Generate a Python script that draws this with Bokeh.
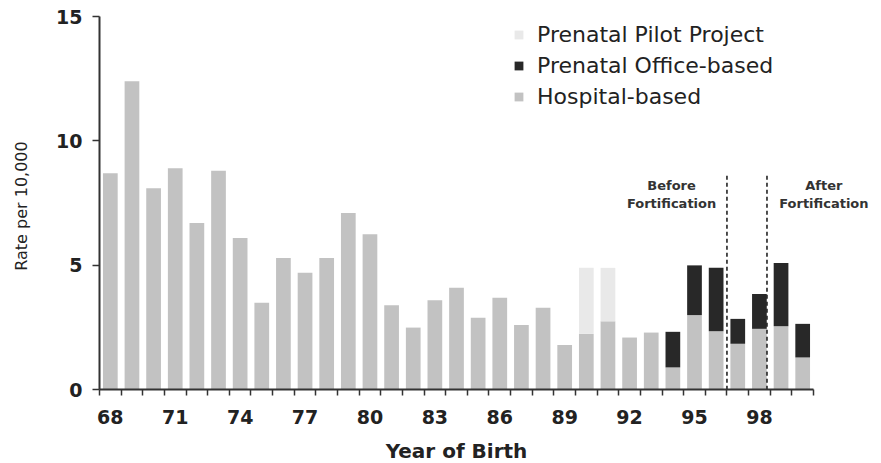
import math
from bokeh.plotting import figure
from bokeh.models import ColumnDataSource, Range1d, FixedTicker, Legend, LegendItem, Label
from bokeh.core.properties import value
from bokeh.embed import file_html
from bokeh.resources import INLINE

# ---- data ----
years = list(range(68, 101))
hospital = [8.7, 12.4, 8.1, 8.9, 6.7, 8.8, 6.1, 3.5, 5.3, 4.7, 5.3, 7.1, 6.25,
            3.4, 2.5, 3.6, 4.1, 2.9, 3.7, 2.6, 3.3, 1.8, 2.25, 2.75, 2.1, 2.3,
            0.9, 3.0, 2.35, 1.85, 2.45, 2.55, 1.3]
office = [0] * 26 + [1.43, 2.0, 2.55, 1.0, 1.4, 2.55, 1.35]
pilot = [0] * 22 + [2.65, 2.15] + [0] * 9
label_years = [68, 71, 74, 77, 80, 83, 86, 89, 92, 95, 98]
y_ticks = [0, 5, 10, 15]
series_names = ["Hospital-based", "Prenatal Office-based", "Prenatal Pilot Project"]
series_colors = ["#c2c2c2", "#282828", "#e9e9e9"]

divider_x = [96.5, 98.35]
divider_top = [8.67, 8.67]
note_x = [93.94, 93.94, 100.98, 100.98]
note_y = [8.2, 7.48, 8.2, 7.48]
note_text = ["Before", "Fortification", "After", "Fortification"]
x_title = "Year of Birth"
y_title = "Rate per 10,000"

FONT = "DejaVu Sans"
TXT = "#222222"

src = ColumnDataSource(dict(year=years, hospital=hospital, office=office, pilot=pilot))

# the frame fills the whole canvas; axes are pinned inside it
p = figure(width=881, height=463,
           x_range=Range1d(62.924, 103.643), y_range=Range1d(-2.961, 15.643),
           output_backend="svg", toolbar_location=None,
           min_border_left=0, min_border_right=0, min_border_top=0, min_border_bottom=0)
p.outline_line_color = None
p.xgrid.visible = False
p.ygrid.visible = False
p.background_fill_color = "white"

rs = p.vbar_stack(["hospital", "office", "pilot"], x="year", width=0.68,
                  color=series_colors, line_color=None, source=src)

# dividers
p.segment(x0=divider_x, y0=[0, 0], x1=divider_x, y1=divider_top,
          line_color="#222222", line_width=1.6, line_dash="4 3")

p.text(x=note_x, y=note_y, text=note_text, text_font=value(FONT),
       text_font_style="bold", text_font_size="13px", text_align="center",
       text_baseline="middle", text_color="#333333")

# x axis (pinned at y = 0)
xa = p.xaxis[0]
xa.fixed_location = 0
xa.bounds = (67.5, 100.5)
xa.ticker = FixedTicker(ticks=label_years, minor_ticks=[y - 0.5 for y in years] + [years[-1] + 0.5])
xa.major_tick_out = 0
xa.major_tick_in = 0
xa.minor_tick_out = 6
xa.minor_tick_in = 0
xa.minor_tick_line_width = 1.5
xa.minor_tick_line_color = "#333333"
xa.axis_line_width = 2
xa.axis_line_color = "#333333"
xa.major_label_text_font = FONT
xa.major_label_text_font_style = "bold"
xa.major_label_text_font_size = "19px"
xa.major_label_text_color = TXT
xa.major_label_standoff = 14

# y axis (pinned at the left end of the year axis)
ya = p.yaxis[0]
ya.fixed_location = xa.bounds[0]
ya.bounds = (0, 15)
ya.ticker = FixedTicker(ticks=y_ticks, minor_ticks=[])
ya.major_tick_out = 7
ya.major_tick_in = 0
ya.major_tick_line_width = 1.5
ya.major_tick_line_color = "#333333"
ya.minor_tick_out = 0
ya.minor_tick_in = 0
ya.axis_line_width = 2
ya.axis_line_color = "#333333"
ya.major_label_text_font = FONT
ya.major_label_text_font_style = "bold"
ya.major_label_text_font_size = "19px"
ya.major_label_text_color = TXT
ya.major_label_standoff = 10

# axis titles
p.add_layout(Label(x=(xa.bounds[0] + xa.bounds[1]) / 2, y=-2.44, text=x_title,
                   text_font=FONT, text_font_style="bold", text_font_size="20px",
                   text_color=TXT, text_align="center", text_baseline="middle"))
p.add_layout(Label(x=63.895, y=7.385, text=y_title, angle=math.pi / 2,
                   text_font=FONT, text_font_style="normal", text_font_size="16px",
                   text_color=TXT, text_align="center", text_baseline="middle"))

legend = Legend(items=[LegendItem(label=series_names[2], renderers=[rs[2]]),
                       LegendItem(label=series_names[1], renderers=[rs[1]]),
                       LegendItem(label=series_names[0], renderers=[rs[0]])],
                location=(513, 354))
legend.label_text_font = FONT
legend.label_text_font_size = "22px"
legend.label_text_color = TXT
legend.glyph_width = 11
legend.glyph_height = 11
legend.label_standoff = 13
legend.spacing = 6
legend.label_height = 24
legend.padding = 0
legend.margin = 0
legend.border_line_color = None
legend.background_fill_alpha = 0
p.add_layout(legend)

open("out.html", "w").write(file_html(p, INLINE))
